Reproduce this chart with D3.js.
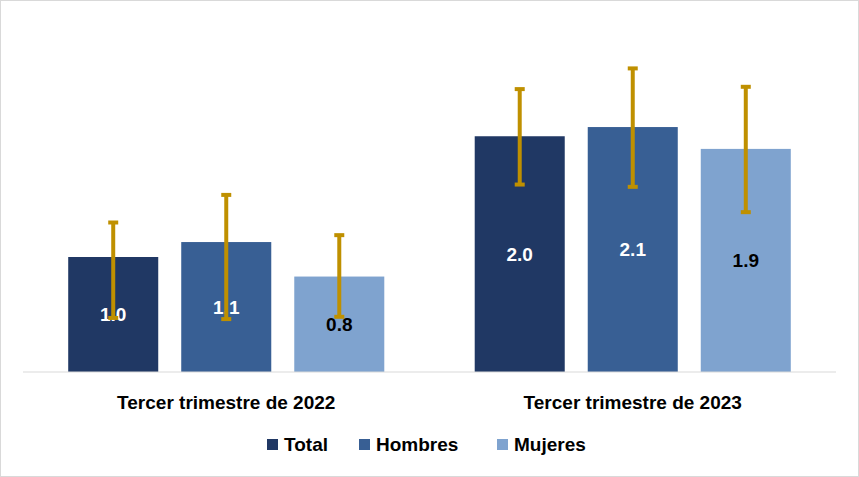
<!DOCTYPE html>
<html><head><meta charset="utf-8">
<script src="https://cdn.jsdelivr.net/npm/d3@7"></script>
<style>body{margin:0;background:#fff}svg{display:block}</style>
</head><body><svg id="c" width="859" height="477"></svg>
<script>
const groups = ['Tercer trimestre de 2022', 'Tercer trimestre de 2023'];
const series = ['Total', 'Hombres', 'Mujeres'];
const colors = ['#203864', '#385f94', '#7fa3cf'];
const labelColors = ['#fff', '#fff', '#000'];
const values = [[1.0, 1.13, 0.83], [2.05, 2.13, 1.94]];
const labels = [['1.0', '1.1', '0.8'], ['2.0', '2.1', '1.9']];
const errLow = [[0.47, 0.46, 0.48], [1.63, 1.61, 1.39]];
const errHigh = [[1.30, 1.54, 1.19], [2.46, 2.64, 2.48]];

const svg = d3.select('#c');
svg.append('rect').attr('x', 0.5).attr('y', 0.5).attr('width', 858).attr('height', 476)
  .attr('fill', '#fff').attr('stroke', '#d9d9d9');

const x0 = d3.scaleBand().domain(groups).range([23, 836]);
const x1 = d3.scaleBand().domain(series).range([0, x0.bandwidth()]).paddingInner(0.2035).paddingOuter(0.4);
const y = d3.scaleLinear().domain([0, 3]).range([372, 27]);

const g = svg.selectAll('g.grp').data(groups).join('g')
  .attr('transform', d => `translate(${x0(d)},0)`);

groups.forEach((grp, gi) => {
  const gg = d3.select(g.nodes()[gi]);
  series.forEach((s, si) => {
    const v = values[gi][si];
    const bx = x1(s), bw = x1.bandwidth(), cx = bx + bw / 2;
    gg.append('rect').attr('x', bx).attr('y', y(v)).attr('width', bw).attr('height', y(0) - y(v)).attr('fill', colors[si]);
    gg.append('text').attr('x', cx).attr('y', (y(v) + y(0)) / 2).attr('dy', '0.36em')
      .attr('text-anchor', 'middle').attr('font-family', 'Arial, Liberation Sans, sans-serif')
      .attr('font-weight', 'bold').attr('font-size', 19).attr('fill', labelColors[si]).text(labels[gi][si]);
    gg.append('line').attr('x1', cx).attr('x2', cx).attr('y1', y(errLow[gi][si])).attr('y2', y(errHigh[gi][si]))
      .attr('stroke', '#bf9000').attr('stroke-width', 4);
    [errLow[gi][si], errHigh[gi][si]].forEach(e => {
      gg.append('line').attr('x1', cx - 5).attr('x2', cx + 5).attr('y1', y(e)).attr('y2', y(e))
        .attr('stroke', '#bf9000').attr('stroke-width', 4);
    });
  });
});

svg.append('line').attr('x1', 23).attr('x2', 836).attr('y1', y(0)).attr('y2', y(0)).attr('stroke', '#d9d9d9');

svg.selectAll('text.cat').data(groups).join('text').attr('class', 'cat')
  .attr('x', d => x0(d) + x0.bandwidth() / 2).attr('y', 409).attr('text-anchor', 'middle')
  .attr('font-family', 'Arial, Liberation Sans, sans-serif').attr('font-weight', 'bold').attr('font-size', 19)
  .attr('fill', '#000').text(d => d);

const legX = [267, 359, 497];
const lg = svg.selectAll('g.leg').data(series).join('g').attr('transform', (d, i) => `translate(${legX[i]},444)`);
lg.append('rect').attr('x', 0).attr('y', -5).attr('width', 11).attr('height', 11).attr('fill', (d, i) => colors[i]);
lg.append('text').attr('x', 17).attr('y', 7).attr('font-family', 'Arial, Liberation Sans, sans-serif')
  .attr('font-weight', 'bold').attr('font-size', 19).text(d => d);
</script></body></html>
